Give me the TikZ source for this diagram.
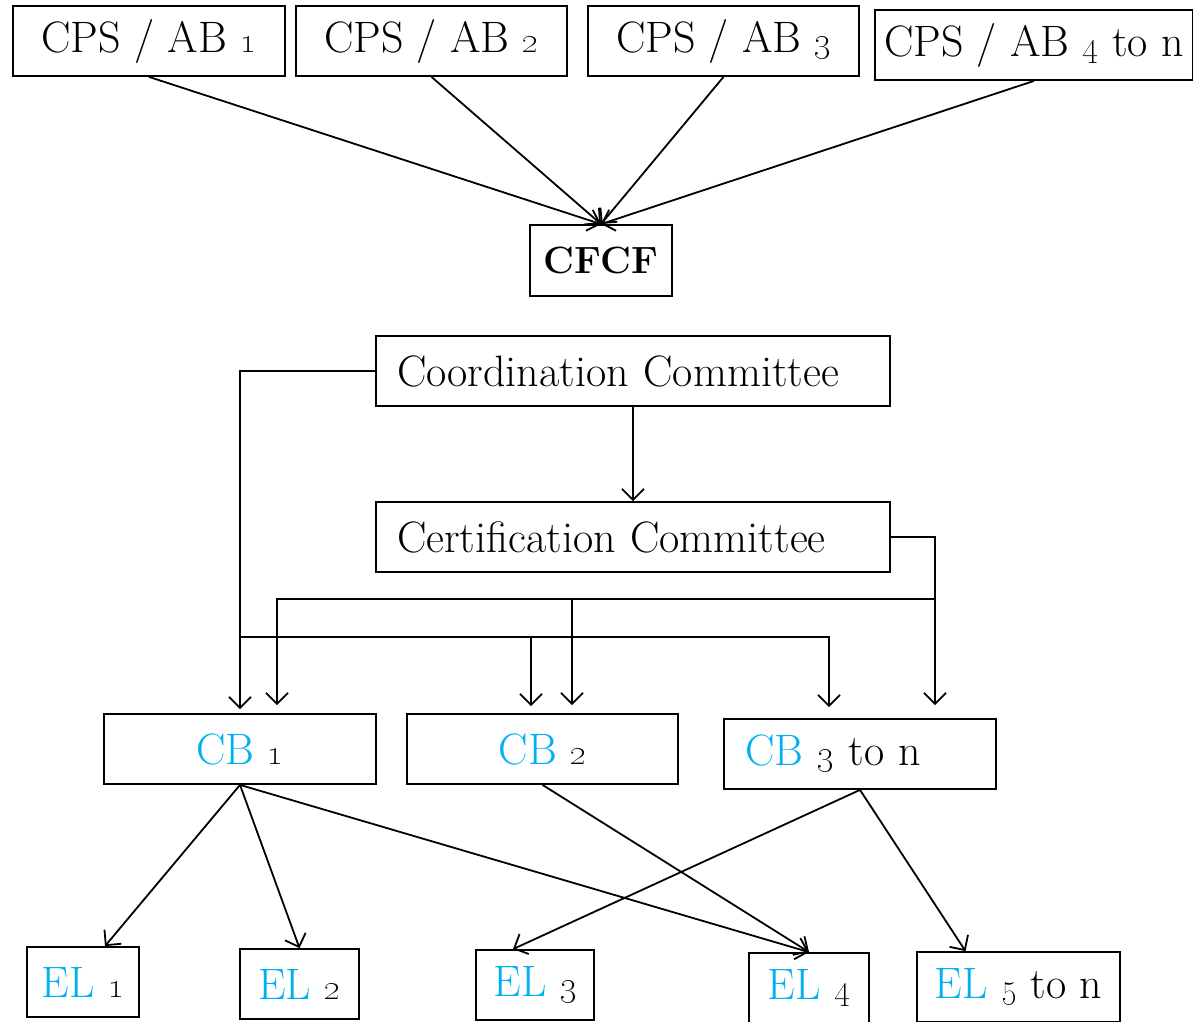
\documentclass[tikz,border=0pt]{standalone}
\usepackage{xcolor}
\usepackage{tikz}
\usetikzlibrary{arrows.meta}

\definecolor{elblue}{RGB}{0,176,240}

\tikzset{
    box/.style={draw=black, line width=1.8pt, minimum height=70pt, inner sep=0pt,
                font=\fontsize{44}{52}\selectfont},
    leftbox/.style={box, align=left, inner xsep=21pt},
    arr/.style={-{Straight Barb[length=11pt,width=22pt,line width=1.8pt]}, line width=1.8pt},
}

\newcommand{\blu}[1]{\textcolor{elblue}{#1}}

\begin{document}
\begin{tikzpicture}[x=1pt, y=-1pt]
        % Fix the page to the size of the reference
        \useasboundingbox (0,0) rectangle (1193,1021);

        % Top row of CPS / AB boxes
        \node[box, minimum width=272pt] (ab1) at (149,41) {CPS / AB \oldstylenums{1}};
        \node[box, minimum width=271pt] (ab2) at (431.5,41) {CPS / AB \oldstylenums{2}};
        \node[box, minimum width=271pt] (ab3) at (723.5,41) {CPS / AB \oldstylenums{3}};
        \node[box, minimum width=318pt] (ab4) at (1034,45) {CPS / AB \oldstylenums{4} to n};

        \node[box, minimum width=142pt, minimum height=71pt, font=\fontsize{38}{46}\selectfont\bfseries] (cfcf) at (601,260.5) {CFCF};

        % Connect the CPS / AB boxes to the CFCF
        \foreach \i in {1,...,4} {
            \draw[arr] (ab\i.south) -- (cfcf.north);
        }

        % The two committees
        \node[leftbox, text width=472pt] (coord) at (633,371) {Coordination Committee};
        \node[leftbox, text width=472pt] (cert) at (633,537) {Certification Committee};

        % Certification bodies
        \node[box, minimum width=272pt] (cb1) at (240,749) {\blu{CB} \oldstylenums{1}};
        \node[box, minimum width=271pt] (cb2) at (542.5,749) {\blu{CB} \oldstylenums{2}};
        \node[leftbox, minimum width=272pt, text width=230pt] (cb3) at (860,754) {\blu{CB} \oldstylenums{3} to n};

        % Evaluation labs
        \node[box, minimum width=112pt] (el1) at (83,982) {\blu{EL} \oldstylenums{1}};
        \node[box, minimum width=119pt] (el2) at (299.5,984) {\blu{EL} \oldstylenums{2}};
        \node[box, minimum width=118pt] (el3) at (535,985) {\blu{EL} \oldstylenums{3}};
        \node[box, minimum width=120pt] (el4) at (809,988) {\blu{EL} \oldstylenums{4}};
        \node[box, minimum width=203pt] (el5) at (1018.5,987) {\blu{EL} \oldstylenums{5} to n};

        % Bus lines from the committees
        \coordinate (cobus) at (240,637);
        \coordinate (cebus) at (935,599);

        \draw[arr] (coord.south) -- (cert.north);

        % Coordination Committee to the CBs
        \draw[arr, shorten >=4pt] (coord.west) -| (cb1.north);
        \draw[arr, shorten >=11pt] (cobus) -| ([xshift=-31pt]cb3.north);
        \draw[arr, shorten >=7pt] ([xshift=-11.5pt]cb2.north |- cobus) -- ([xshift=-11.5pt]cb2.north);

        % Certification Committee to the CBs
        \draw[arr, shorten >=13pt] (cert.east) -| ([xshift=75pt]cb3.north);
        \draw[arr, shorten >=8pt] (cebus) -| ([xshift=37pt]cb1.north);
        \draw[arr, shorten >=8pt] ([xshift=29.5pt]cb2.north |- cebus) -- ([xshift=29.5pt]cb2.north);

        % CBs to the ELs
        \draw[arr] (cb1.south) -- ([xshift=22pt]el1.north);
        \draw[arr] (cb1.south) -- (el2.north);
        \draw[arr] (cb1.south) -- (el4.north);
        \draw[arr] (cb2.south) -- (el4.north);
        \draw[arr] (cb3.south) -- ([xshift=-22pt]el3.north);
        \draw[arr] (cb3.south) -- ([xshift=-53pt]el5.north);
    \end{tikzpicture}
\end{document}
